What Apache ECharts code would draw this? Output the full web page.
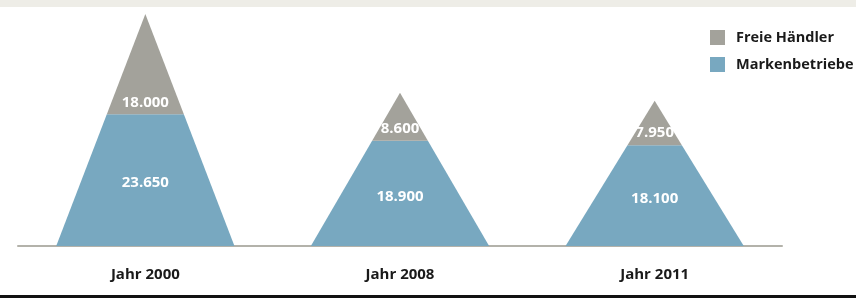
<!DOCTYPE html>
<html lang="de">
<head>
  <meta charset="UTF-8">
  <title>Freie Händler und Markenbetriebe</title>
  <script src="https://cdn.jsdelivr.net/npm/echarts@6/dist/echarts.min.js"></script>
  <style>
    html, body { margin: 0; padding: 0; background: #fff; }
  </style>
</head>
<body>
  <div id="main" style="width: 856px;height:298px;"></div>

  <script type="text/javascript">
  var jahre = ['Jahr 2000', 'Jahr 2008', 'Jahr 2011'];
  var marken = [23650, 18900, 18100];   // Markenbetriebe (unten)
  var freie = [18000, 8600, 7950];      // Freie Händler (oben)

  var grau = '#a3a29b';
  var blau = '#78a8c0';
  var schrift = '"Open Sans", "Noto Sans", sans-serif';

  function punkt(v) {
    return String(v).replace(/\B(?=(\d{3})+(?!\d))/g, '.');
  }

  // [kategorie, von, bis, gesamt]
  var blauDaten = [], grauDaten = [];
  for (var i = 0; i < jahre.length; i++) {
    var gesamt = marken[i] + freie[i];
    blauDaten.push([i, 0, marken[i], gesamt]);
    grauDaten.push([i, marken[i], gesamt, gesamt]);
  }

  // ein Stück des Dreiecks zwischen "von" und "bis"
  function stueck(params, api, oben) {
    var cat = api.value(0);
    var basis = api.coord([cat, 0]);
    var x = basis[0];
    var yBasis = basis[1];
    var ySpitze = api.coord([cat, api.value(3)])[1];
    var y0 = api.coord([cat, api.value(1)])[1];
    var y1 = api.coord([cat, api.value(2)])[1];
    var halb = api.size([1, 0])[0] * 0.35;
    function hw(y) { return halb * (y - ySpitze) / (yBasis - ySpitze); }
    var textY = oben ? Math.max(ySpitze + (y0 - ySpitze) * 2 / 3, y0 - 12) : (y0 + y1) / 2 + 3;
    var wert = api.value(2) - api.value(1);
    return {
      type: 'group',
      children: [{
        type: 'polygon',
        shape: { points: [[x - hw(y0), y0], [x + hw(y0), y0], [x + hw(y1), y1], [x - hw(y1), y1]] },
        style: { fill: api.visual('color') }
      }, {
        type: 'text',
        x: x, y: textY,
        style: {
          text: punkt(wert),
          fill: '#fff',
          font: 'bold 15px ' + schrift,
          align: 'center',
          verticalAlign: 'middle'
        }
      }]
    };
  }

  var myChart = echarts.init(document.getElementById('main'));

  var option = {
    animation: false,
    backgroundColor: '#fff',
    graphic: [
      { type: 'rect', left: 0, top: 0, shape: { width: 856, height: 7 }, style: { fill: '#eeede7' } },
      { type: 'rect', left: 0, top: 295, shape: { width: 856, height: 3 }, style: { fill: '#111' } }
    ],
    legend: {
      orient: 'vertical',
      left: 710,
      top: 30,
      padding: 0,
      itemWidth: 15,
      itemHeight: 15,
      itemGap: 12,
      icon: 'rect',
      data: ['Freie Händler', 'Markenbetriebe'],
      textStyle: { fontFamily: schrift, fontWeight: 'bold', fontSize: 14.5, color: '#1a1a1a', padding: [0, 0, 0, 6] }
    },
    grid: { left: 18, right: 74, top: 12, bottom: 52 },
    xAxis: {
      type: 'category',
      data: jahre,
      axisLine: { lineStyle: { color: '#b3b2aa', width: 2 } },
      axisTick: { show: false },
      axisLabel: { margin: 21, fontFamily: schrift, fontWeight: 'bold', fontSize: 15, color: '#1a1a1a' }
    },
    yAxis: { type: 'value', min: 0, max: 42000, show: false, splitLine: { show: false } },
    series: [
      {
        name: 'Markenbetriebe',
        type: 'custom',
        itemStyle: { color: blau },
        encode: { x: 0, y: [1, 2] },
        data: blauDaten,
        renderItem: function (params, api) { return stueck(params, api, false); }
      },
      {
        name: 'Freie Händler',
        type: 'custom',
        itemStyle: { color: grau },
        encode: { x: 0, y: [1, 2] },
        data: grauDaten,
        renderItem: function (params, api) { return stueck(params, api, true); }
      }
    ]
  };
  myChart.setOption(option);
  </script>
</body>
</html>
